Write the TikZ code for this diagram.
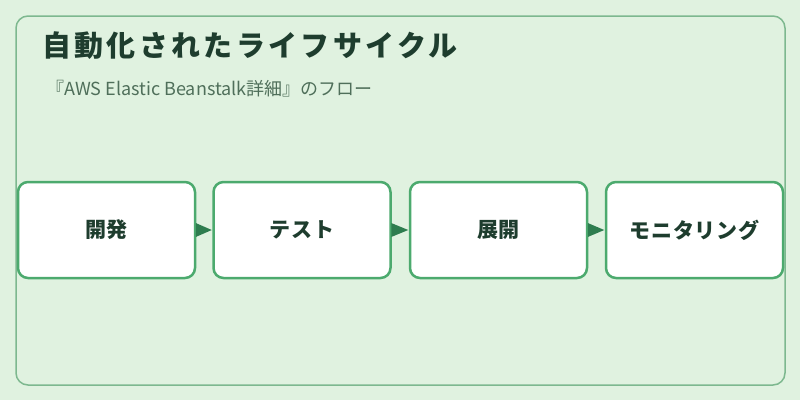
\documentclass[tikz,border=0pt]{standalone}
\usepackage{fontspec}
\setmainfont{Noto Sans CJK JP}
\usetikzlibrary{arrows.meta}
\definecolor{bgc}{HTML}{E0F2E0}
\definecolor{outerc}{HTML}{7DB88F}
\definecolor{boxc}{HTML}{4CAA6E}
\definecolor{arrc}{HTML}{2E7D4F}
\definecolor{titlec}{HTML}{1E3D2E}
\definecolor{subc}{HTML}{4F6F5A}
\tikzset{
  stagebox/.style={draw=boxc, line width=2.5pt, fill=white, rounded corners=10pt,
    minimum width=177pt, minimum height=96pt, inner sep=0pt,
    font=\fontsize{21pt}{24pt}\selectfont\bfseries\addfontfeature{LetterSpace=3}, text=titlec}
}
\begin{document}
\begin{tikzpicture}[x=1pt,y=-1pt]
\useasboundingbox (0,0) rectangle (800,400);
\fill[bgc] (0,0) rectangle (800,400);
\draw[outerc, line width=1.5pt, rounded corners=12pt] (16,16) rectangle (785,385);
\node[anchor=west, font=\fontsize{29pt}{32pt}\selectfont\bfseries\addfontfeature{LetterSpace=11.5}, text=titlec, inner sep=0pt] (title) at (42,46) {自動化されたライフサイクル};
\node[anchor=west, font=\fontsize{18pt}{20pt}\selectfont, text=subc, inner sep=0pt] (sub) at (46,89) {『AWS Elastic Beanstalk詳細』のフロー};
\node[stagebox] (s1) at (106.5,230) {開発};
\node[stagebox] (s2) at (302,230) {テスト};
\node[stagebox] (s3) at (498.5,230) {展開};
\node[stagebox] (s4) at (694.5,230) {モニタリング};
\foreach \a/\b in {s1/s2,s2/s3,s3/s4}{
  \fill[arrc] ([xshift=-0.5pt]\a.east) ++(0,-7) -- ++(0,14) -- ([xshift=-0.5pt]\b.west) -- cycle;
}
\end{tikzpicture}
\end{document}
